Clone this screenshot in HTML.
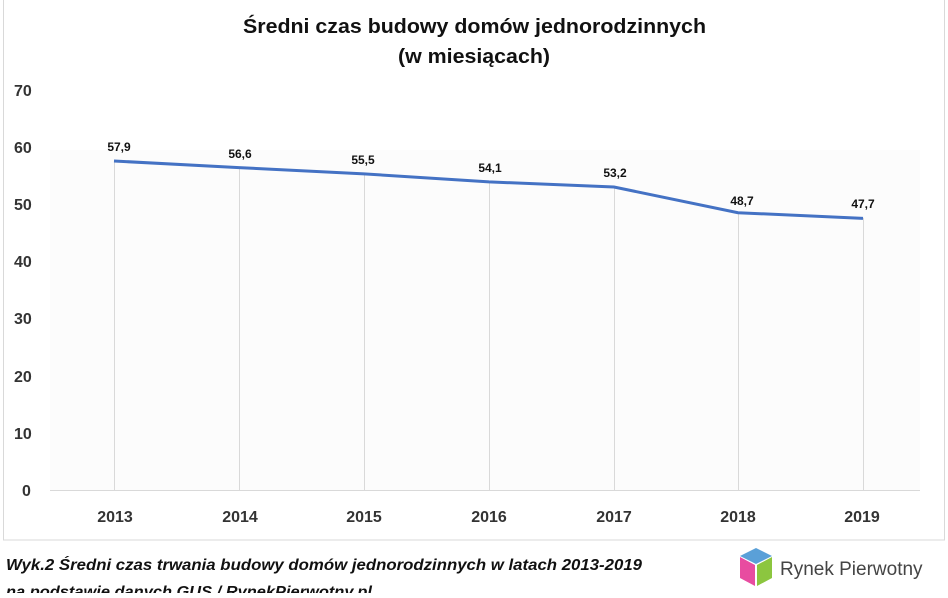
<!DOCTYPE html>
<html><head><meta charset="utf-8"><style>
body{margin:0;background:#fff;width:948px;height:593px;overflow:hidden;font-family:"Liberation Sans",sans-serif}
</style></head><body>
<svg width="948" height="593" xmlns="http://www.w3.org/2000/svg" font-family="Liberation Sans, sans-serif">
<rect x="3.5" y="-1" width="941" height="541" fill="#fff" stroke="#d9d9d9"/>
<rect x="50" y="150" width="870" height="340" fill="#fcfcfc"/>
<text x="243" y="33" textLength="463" lengthAdjust="spacingAndGlyphs" font-size="20" font-weight="bold" fill="#111">Średni czas budowy domów jednorodzinnych</text>
<text x="398" y="63" textLength="152" lengthAdjust="spacingAndGlyphs" font-size="20" font-weight="bold" fill="#111">(w miesiącach)</text>
<g font-size="16" font-weight="bold" fill="#333">
<text x="14" y="96">70</text><text x="14" y="153">60</text><text x="14" y="210">50</text>
<text x="14" y="267">40</text><text x="14" y="324">30</text><text x="14" y="382">20</text>
<text x="14" y="439">10</text><text x="22" y="496">0</text>
</g>
<g stroke="#d9d9d9" stroke-width="1">
<line x1="114.5" y1="161" x2="114.5" y2="490"/><line x1="239.5" y1="168" x2="239.5" y2="490"/>
<line x1="364.5" y1="174" x2="364.5" y2="490"/><line x1="489.5" y1="182" x2="489.5" y2="490"/>
<line x1="614.5" y1="187" x2="614.5" y2="490"/><line x1="738.5" y1="212" x2="738.5" y2="490"/>
<line x1="863.5" y1="218" x2="863.5" y2="490"/>
<line x1="50" y1="490.5" x2="920" y2="490.5"/>
</g>
<polyline fill="none" stroke="#4472c4" stroke-width="3" points="114,161 239,167.6 364,173.9 489,181.9 614,187 738,212.7 863,218.4"/>
<g font-size="12" font-weight="bold" fill="#111" text-anchor="middle">
<text x="119" y="151">57,9</text><text x="240" y="158">56,6</text><text x="363" y="164">55,5</text>
<text x="490" y="172">54,1</text><text x="615" y="177">53,2</text><text x="742" y="205">48,7</text><text x="863" y="208">47,7</text>
</g>
<g font-size="16" font-weight="bold" fill="#333" text-anchor="middle">
<text x="115" y="522">2013</text><text x="240" y="522">2014</text><text x="364" y="522">2015</text>
<text x="489" y="522">2016</text><text x="614" y="522">2017</text><text x="738" y="522">2018</text><text x="862" y="522">2019</text>
</g>
<g font-size="16" font-style="italic" font-weight="bold" fill="#111">
<text x="6" y="570" textLength="636" lengthAdjust="spacingAndGlyphs">Wyk.2  Średni czas trwania budowy domów jednorodzinnych w latach 2013-2019</text>
<text x="6" y="597" textLength="366" lengthAdjust="spacingAndGlyphs">na podstawie danych GUS / RynekPierwotny.pl</text>
</g>
<g>
<polygon points="756,548 772,556 756,564 740,556" fill="#5aa0d8"/>
<polygon points="740,557 755,565 755,586 740,578" fill="#e84ca0"/>
<polygon points="757,565 772,557 772,578 757,586" fill="#8cc63f"/>
</g>
<text x="780" y="575" font-size="19" fill="#444">Rynek Pierwotny</text>
</svg>
</body></html>
